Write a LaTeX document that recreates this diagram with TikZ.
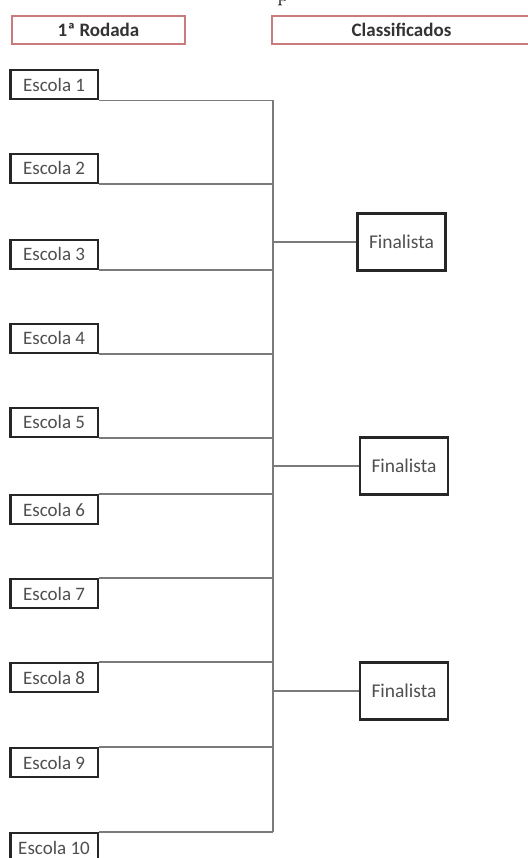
\documentclass[tikz,border=0pt]{standalone}
\usepackage{fontspec}
\newfontfamily\calfont{Carlito}
\definecolor{textgray}{HTML}{4F4F4F}
\definecolor{headtext}{HTML}{333333}
\definecolor{headred}{HTML}{C97B7E}
\definecolor{linegray}{HTML}{7A7A7A}
\tikzset{
  school/.style={draw=black!85, line width=2.4pt, fill=white, minimum width=87.5pt,
    minimum height=29pt, inner sep=0pt, font=\calfont\fontsize{19}{21}\selectfont, text=textgray},
  finalbox/.style={draw=black!85, line width=2.4pt, fill=white, minimum width=88pt,
    minimum height=57pt, inner sep=0pt, font=\calfont\fontsize{19.5}{21}\selectfont, text=textgray},
  headbox/.style={draw=headred, line width=1.3pt, minimum height=28pt, inner sep=0pt,
    font=\calfont\bfseries\fontsize{19}{21}\selectfont, text=headtext},
  link/.style={draw=linegray, line width=1.4pt}
}
\begin{document}
\begin{tikzpicture}[x=1pt,y=-1pt]
\useasboundingbox (0,0) rectangle (527,858);
% cut-off character at the top, as in the reference
\node[anchor=base, inner sep=0pt, font=\fontsize{22}{24}\selectfont] (cut) at (283,2) {p};
% headers
\node[headbox, minimum width=173pt] (h1) at (98.5,30) {1ª Rodada};
\node[headbox, minimum width=259pt] (h2) at (401.5,30) {Classificados};
% schools above their line
\node[school, anchor=south east] (e1) at (99,100.5) {Escola 1};
\node[school, anchor=south east] (e2) at (99,184) {Escola 2};
\node[school, anchor=south east] (e3) at (99,270) {Escola 3};
\node[school, anchor=south east] (e4) at (99,354) {Escola 4};
\node[school, anchor=south east] (e5) at (99,438) {Escola 5};
% schools below their line
\node[school, anchor=north east] (e6) at (99,494) {Escola 6};
\node[school, anchor=north east] (e7) at (99,578) {Escola 7};
\node[school, anchor=north east] (e8) at (99,662) {Escola 8};
\node[school, anchor=north east] (e9) at (99,747) {Escola 9};
\node[school, anchor=north east] (e10) at (99,832) {Escola 10};
% junction points on the vertical line
\coordinate (j1) at (273,100.5);
\coordinate (j2) at (273,184);
\coordinate (j3) at (273,270);
\coordinate (j4) at (273,354);
\coordinate (j5) at (273,438);
\coordinate (j6) at (273,494);
\coordinate (j7) at (273,578);
\coordinate (j8) at (273,662);
\coordinate (j9) at (273,747);
\coordinate (j10) at (273,832);
\coordinate (m1) at (273,242);
\coordinate (m2) at (273,466);
\coordinate (m3) at (273,691);
% finalists
\node[finalbox] (f1) at (401.5,242) {Finalista};
\node[finalbox] (f2) at (404,466) {Finalista};
\node[finalbox] (f3) at (404,691) {Finalista};
% connectors
\foreach \i in {1,...,5} \draw[link] (e\i.south east) -- (j\i);
\foreach \i in {6,...,10} \draw[link] (e\i.north east) -- (j\i);
\draw[link] (j1) -- (j10);
\draw[link] (m1) -- (f1.west);
\draw[link] (m2) -- (f2.west);
\draw[link] (m3) -- (f3.west);
\end{tikzpicture}
\end{document}
